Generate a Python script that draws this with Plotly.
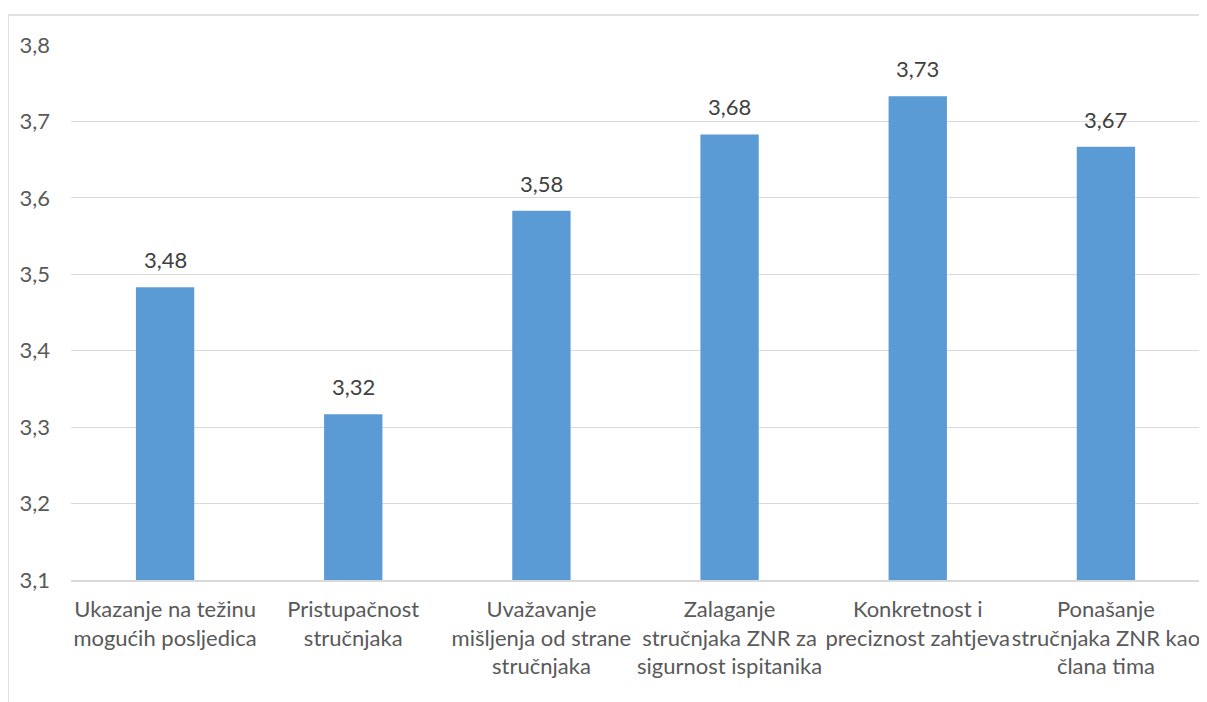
import plotly.graph_objects as go

categories = [
    "Ukazanje na težinu<br>mogućih posljedica",
    "Pristupačnost<br>stručnjaka",
    "Uvažavanje<br>mišljenja od strane<br>stručnjaka",
    "Zalaganje<br>stručnjaka ZNR za<br>sigurnost ispitanika",
    "Konkretnost i<br>preciznost zahtjeva",
    "Ponašanje<br>stručnjaka ZNR kao<br>člana tima",
]
values = [3.483, 3.317, 3.583, 3.683, 3.733, 3.667]
labels = ["3,48", "3,32", "3,58", "3,68", "3,73", "3,67"]
y_ticks = [3.1, 3.2, 3.3, 3.4, 3.5, 3.6, 3.7, 3.8]

FONT = "Lato"
GREY = "#595959"
FS = 22

fig = go.Figure(go.Bar(
    x=categories, y=values,
    marker=dict(color="#5b9bd5", line=dict(width=0)),
))

annotations = [
    dict(x=c, y=v, text=t, showarrow=False, yanchor="bottom", yshift=12,
         font=dict(family=FONT, size=FS, color="#404040"))
    for c, v, t in zip(categories, values, labels)
]

L, T, R, B = 63, 37, 15, 130
W, H = 1207, 702
pw, ph = W - L - R, H - T - B
bx = -(L - 0) / pw
by = 1 + (T - 7) / ph

fig.update_layout(
    width=W, height=H,
    margin=dict(l=L, r=R, t=T, b=B),
    paper_bgcolor="white", plot_bgcolor="white",
    separators=", ",
    bargap=0.69,
    showlegend=False,
    font=dict(family=FONT, size=FS, color=GREY),
    annotations=annotations,
    xaxis=dict(
        showgrid=False, showline=True, linecolor="#d9d9d9", linewidth=1.5,
        ticks="", tickfont=dict(family=FONT, size=FS, color=GREY),
        tickangle=0, ticklabelstandoff=9,
    ),
    yaxis=dict(
        range=[3.1, 3.8], tickvals=y_ticks, tickformat=".1f",
        showgrid=True, gridcolor="#d9d9d9", gridwidth=1.2,
        zeroline=False, showline=False, ticks="",
        ticklabelstandoff=20,
        tickfont=dict(family=FONT, size=FS, color=GREY),
    ),
    shapes=[
        dict(type="line", xref="paper", yref="paper",
             x0=bx, x1=1.2, y0=by, y1=by,
             line=dict(color="#d9d9d9", width=1.5)),
        dict(type="line", xref="paper", yref="paper",
             x0=bx, x1=bx, y0=by, y1=-0.5,
             line=dict(color="#d9d9d9", width=1.5)),
    ],
)

fig.write_html("out.html")
